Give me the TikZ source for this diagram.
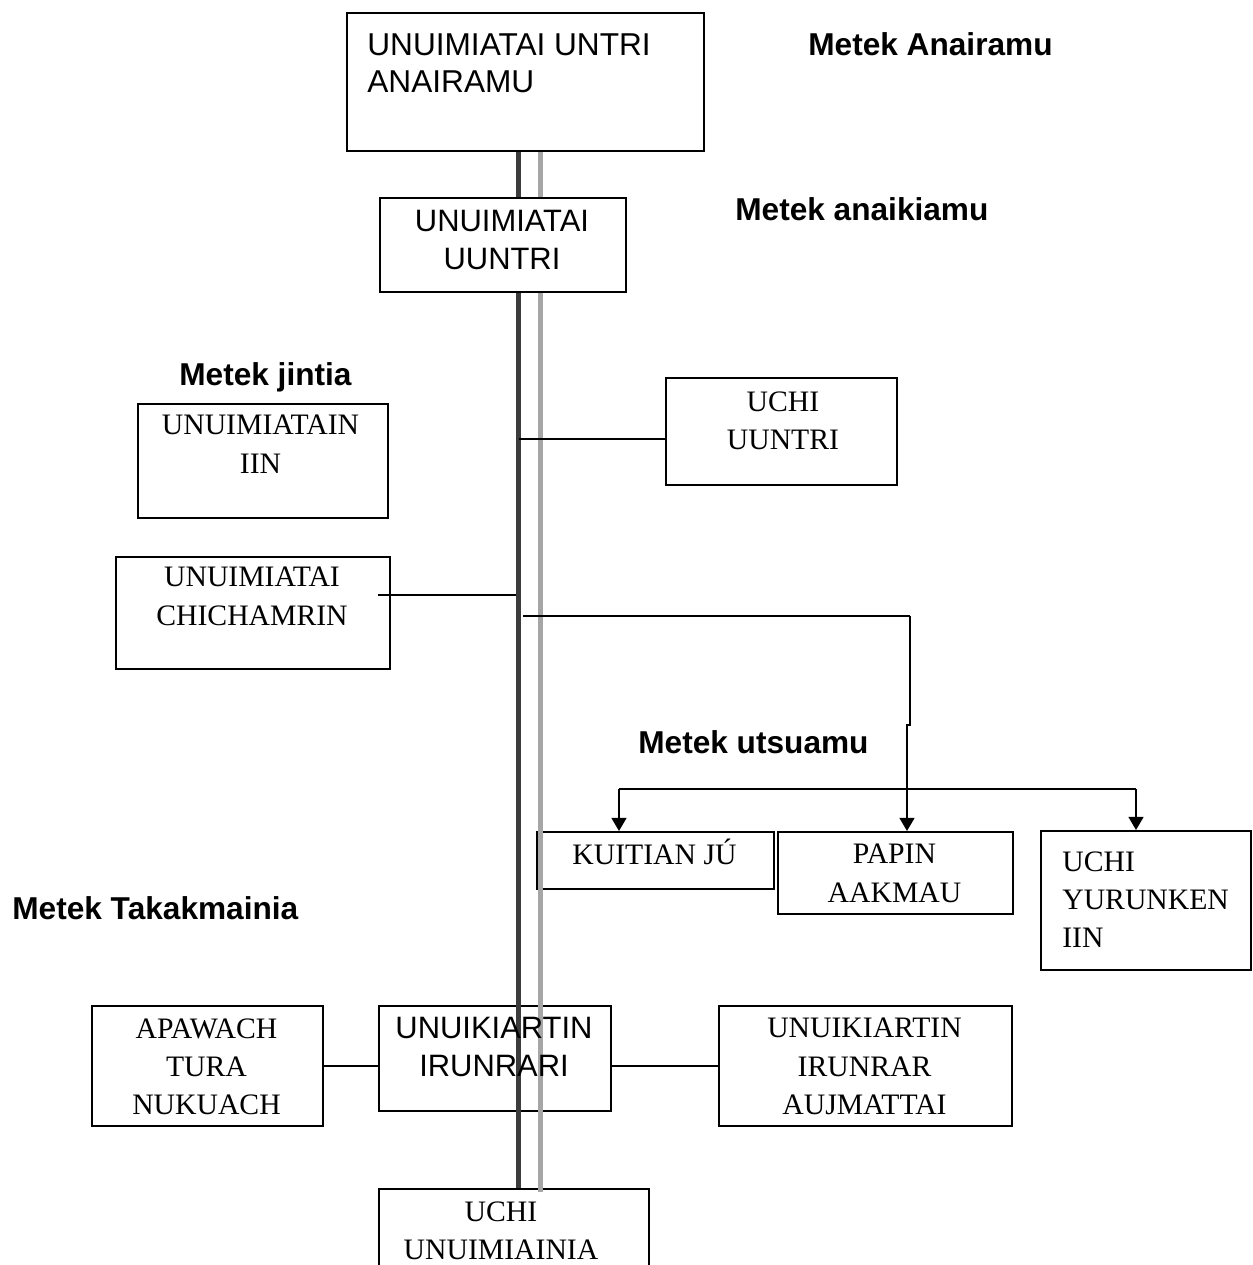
\documentclass[tikz,border=0pt]{standalone}
\usepackage{fontspec}
\setmainfont{Liberation Serif}
\newfontfamily\arialfont{Liberation Sans}
\usetikzlibrary{arrows.meta}
\definecolor{trunkdark}{HTML}{3C3C3C}
\definecolor{trunklight}{HTML}{A6A6A6}
\begin{document}
\begin{tikzpicture}[x=0.02cm,y=-0.02cm,
  box/.style={draw, line width=1.1pt, inner sep=0pt, anchor=north west},
  serif/.style={font=\fontsize{16.9}{21.8}\selectfont, inner sep=0pt, align=center, anchor=north},
  sans/.style={font=\arialfont\fontsize{17.6}{21.6}\selectfont, inner sep=0pt, align=center, anchor=north},
  level/.style={font=\arialfont\bfseries\fontsize{18}{21.6}\selectfont, inner sep=0pt, anchor=base west},
  link/.style={line width=0.9pt},
  arrowlink/.style={line width=1.1pt, -{Triangle[width=8.5pt,length=7.5pt]}},
  trunk/.style={line width=2.8pt, trunkdark},
  trunkgrey/.style={line width=2.8pt, trunklight}]
\useasboundingbox (0,0) rectangle (1252,1265);
\clip (0,0) rectangle (1252,1265);

% boxes
\node[box, minimum width=7.14cm, minimum height=2.76cm] (anai) at (346,12) {};
\node[box, minimum width=4.92cm, minimum height=1.88cm] (uuntri) at (379,197) {};
\node[box, minimum width=5.00cm, minimum height=2.28cm] (iin) at (137,403) {};
\node[box, minimum width=4.62cm, minimum height=2.14cm] (uchiuuntri) at (665,377) {};
\node[box, minimum width=5.48cm, minimum height=2.24cm] (chich) at (115,556) {};
\node[box, minimum width=4.74cm, minimum height=1.14cm] (kuitian) at (536,831) {};
\node[box, minimum width=4.70cm, minimum height=1.64cm] (papin) at (777,831) {};
\node[box, minimum width=4.20cm, minimum height=2.78cm] (yurunken) at (1040,830) {};
\node[box, minimum width=4.62cm, minimum height=2.40cm] (apawach) at (91,1005) {};
\node[box, minimum width=4.64cm, minimum height=2.10cm] (irunrari) at (378,1005) {};
\node[box, minimum width=5.86cm, minimum height=2.40cm] (aujmattai) at (718,1005) {};
\node[box, minimum width=5.40cm, minimum height=2.24cm] (uchiunu) at (378,1188) {};

% double trunk
\coordinate (dk) at (518.5,0);
\coordinate (gy) at (540.5,0);
\draw[trunk] (anai.south -| dk) -- (uuntri.north -| dk);
\draw[trunk] (uuntri.south -| dk) -- (uchiunu.north -| dk);
\draw[trunkgrey] (anai.south -| gy) -- (uuntri.north -| gy);
\draw[trunkgrey] (uuntri.south -| gy) -- ([yshift=-4*0.02cm]uchiunu.north -| gy);

% box texts
\node[sans, font=\arialfont\fontsize{18}{21.05}\selectfont, anchor=north west, align=left] (tanai) at (367,33) {UNUIMIATAI UNTRI\\ANAIRAMU};
\node[sans] (tuuntri) at (502,210) {UNUIMIATAI\\UUNTRI};
\node[serif] (tiin) at (260.5,415) {UNUIMIATAIN\\IIN};
\node[serif] (tuchiuuntri) at (783,391) {UCHI\\UUNTRI};
\node[serif] (tchich) at (252,567) {UNUIMIATAI\\CHICHAMRIN};
\node[serif, anchor=base] (tkuitian) at (654.5,864) {KUITIAN JÚ};
\node[serif] (tpapin) at (894.5,844) {PAPIN\\AAKMAU};
\node[serif, anchor=north west, align=left] (tyurunken) at (1062,851) {UCHI\\YURUNKEN\\IIN};
\node[serif] (tapawach) at (206.5,1018) {APAWACH\\TURA\\NUKUACH};
\node[sans] (tirunrari) at (494,1017) {UNUIKIARTIN\\IRUNRARI};
\node[serif] (taujmattai) at (864.5,1018) {UNUIKIARTIN\\IRUNRAR\\AUJMATTAI};
\node[serif] (tuchiunu) at (501,1201) {UCHI\\UNUIMIAINIA};

% level labels
\node[level] (lanai) at (808,55) {Metek Anairamu};
\node[level] (lanaik) at (735,220) {Metek anaikiamu};
\node[level] (ljintia) at (179,385) {Metek jintia};
\node[level] (lutsuamu) at (638,753) {Metek utsuamu};
\node[level] (ltakak) at (12,919) {Metek Takakmainia};

% side links
\coordinate (j1) at (0,439);
\draw[link] (j1 -| dk) -- (j1 -| uchiuuntri.west);
\coordinate (c1) at (378,595);
\draw[link] (c1) -- ([xshift=-2.5*0.02cm]c1 -| dk);
\coordinate (b0) at (523,616);
\coordinate (b1) at (910,616);
\coordinate (b2) at (910,725);
\coordinate (b3) at (907,725);
\draw[link] (b0) -- (b1);
\draw[arrowlink] (b1) -- (b2) -- (b3) -- (b3 |- papin.north);
\coordinate (h0) at (619,789);
\coordinate (h1) at (1136,789);
\draw[link, line width=1.1pt] (h0) -- (h1);
\draw[arrowlink] (h0) -- (h0 |- kuitian.north);
\draw[arrowlink] (h1) -- (h1 |- yurunken.north);

% bottom links
\draw[link] (apawach.east) -- (apawach.east -| irunrari.west);
\draw[link] (irunrari.east |- apawach.east) -- (aujmattai.west |- apawach.east);
\end{tikzpicture}
\end{document}
